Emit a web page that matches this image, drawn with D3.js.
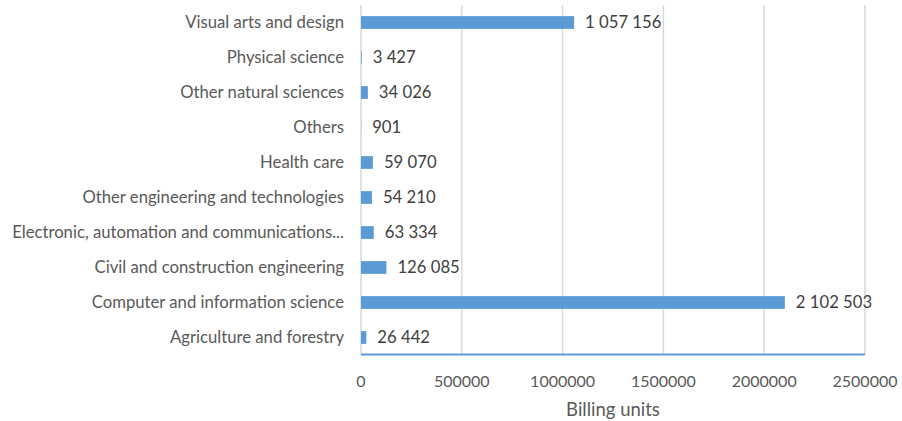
<!DOCTYPE html>
<html><head><meta charset="utf-8">
<script src="https://cdn.jsdelivr.net/npm/d3@7"></script>
<style>body{margin:0;background:#fff}text{font-family:Lato,"Open Sans",sans-serif}</style>
</head><body><svg id="c" width="902" height="421"></svg>
<script>
const categories = ["Visual arts and design","Physical science","Other natural sciences","Others","Health care","Other engineering and technologies","Electronic, automation and communications...","Civil and construction engineering","Computer and information science","Agriculture and forestry"];
const values = [1057156,3427,34026,901,59070,54210,63334,126085,2102503,26442];
const ticks = [0,500000,1000000,1500000,2000000,2500000];
const axisTitle = "Billing units";

const svg = d3.select("#c");
const m = {l:361, r:865, t:5, b:355};
const x = d3.scaleLinear().domain([0,2500000]).range([m.l,m.r]);
const y = d3.scaleBand().domain(categories).range([m.t,m.b]).paddingInner(0.636).paddingOuter(0.318);

// gridlines
svg.append("g").selectAll("line").data(ticks).join("line")
  .attr("x1",d=>x(d)).attr("x2",d=>x(d)).attr("y1",m.t).attr("y2",m.b)
  .attr("stroke","#d9d9d9").attr("stroke-width",1.5);

// bars
svg.append("g").selectAll("rect").data(values).join("rect")
  .attr("x",x(0)).attr("y",(d,i)=>y(categories[i]))
  .attr("width",d=>x(d)-x(0)).attr("height",y.bandwidth())
  .attr("fill","#5b9bd5");

// bottom axis line
svg.append("line").attr("x1",x(0)).attr("x2",x(2500000)).attr("y1",m.b-0.5).attr("y2",m.b-0.5)
  .attr("stroke","#5b9bd5").attr("stroke-width",2);

const fmt = v => d3.format(",")(v).replace(/,/g,"\u00a0");
// value labels
svg.append("g").selectAll("text").data(values).join("text")
  .attr("x",d=>x(d)+11).attr("y",(d,i)=>y(categories[i])+y.bandwidth()/2)
  .attr("dy","0.35em").attr("font-size",16.7).attr("fill","#404040")
  .text(d=>fmt(d));

// category labels
svg.append("g").selectAll("text").data(categories).join("text")
  .attr("x",344).attr("y",d=>y(d)+y.bandwidth()/2).attr("dy","0.35em")
  .attr("text-anchor","end").attr("font-size",16.7).attr("fill","#595959").text(d=>d);

// tick labels
svg.append("g").selectAll("text").data(ticks).join("text")
  .attr("x",d=>x(d)).attr("y",381).attr("dy","0.35em").attr("text-anchor","middle")
  .attr("font-size",16).attr("fill","#595959").text(d=>d3.format("d")(d));

svg.append("text").attr("x",613).attr("y",410).attr("dy","0.35em").attr("text-anchor","middle")
  .attr("font-size",18.5).attr("fill","#595959").text(axisTitle);
</script></body></html>
